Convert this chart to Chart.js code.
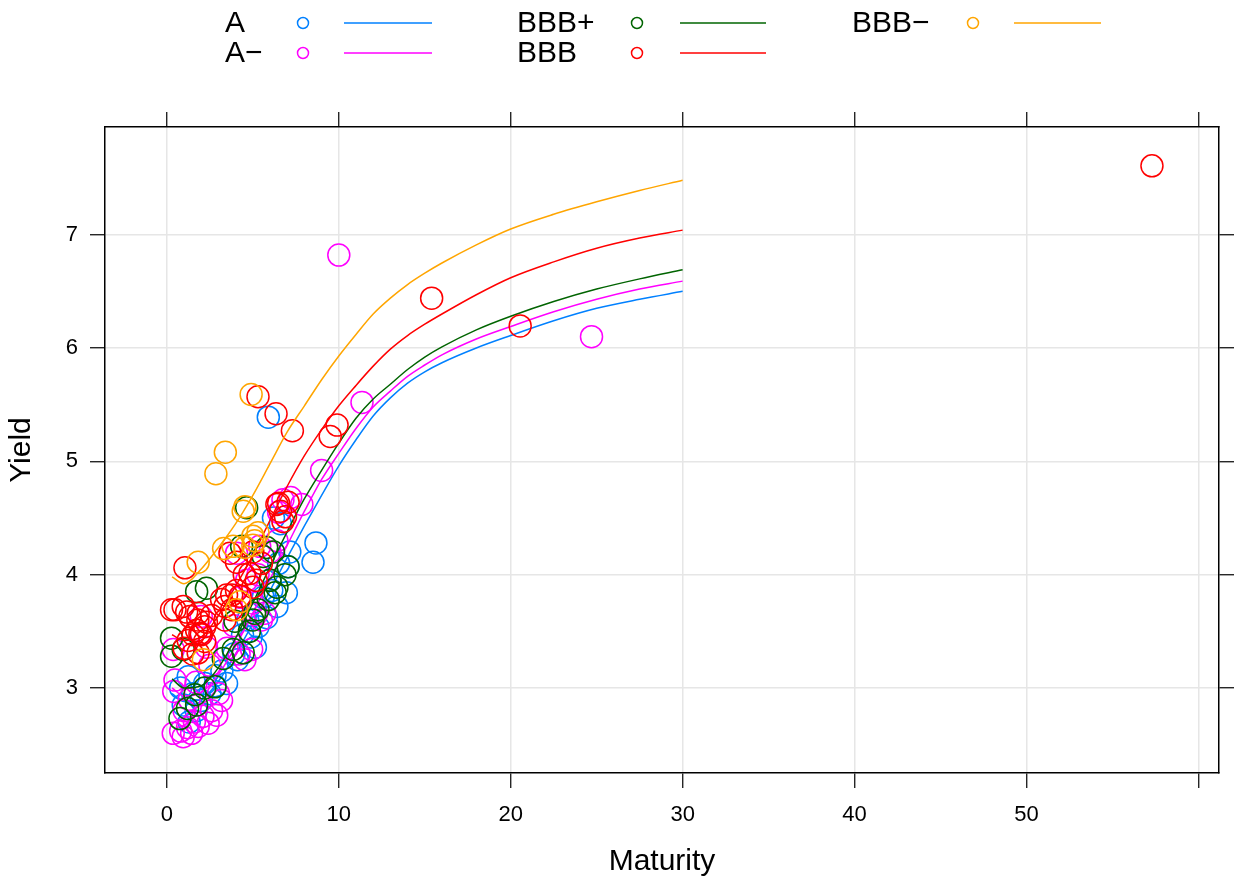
<!DOCTYPE html>
<html><head><meta charset="utf-8">
<script src="https://cdn.jsdelivr.net/npm/chart.js@4.4.1/dist/chart.umd.min.js"></script>
<style>html,body{margin:0;padding:0;background:#fff;}#wrap{width:1240px;height:889px;position:relative;}</style>
</head><body><div id="wrap"><canvas id="c" width="1240" height="889"></canvas></div>
<script>
// ---------- DATA ----------
const ratings = ['A', 'A\u2212', 'BBB+', 'BBB', 'BBB\u2212'];
const xTicks = [0, 10, 20, 30, 40, 50, 60];
const xTickLabels = ['0', '10', '20', '30', '40', '50', ''];
const yTicks = [3, 4, 5, 6, 7];
const yTickLabels = ['3', '4', '5', '6', '7'];

// observed bonds (Maturity, Yield)
const A_x = [5.9,6.2,8.67,8.5,7.15,7.05,6.95,6.1,5.3,5.15,4.4,4.7,3.9,3.47,2.8,2.8,2.2,1.24,0.95,2.0,1.5,1.7,6.5,6.0,5.6,4.9,3.2,6.6,4.1,2.5,0.8,6.4,5.8,1.3];
const A_y = [5.39,4.50,4.28,4.11,4.20,4.07,3.84,3.86,3.54,3.36,3.47,3.60,3.30,3.04,3.11,3.02,3.04,3.10,2.85,2.89,2.95,2.80,4.10,3.95,3.80,3.45,3.15,4.45,3.25,2.95,3.00,3.72,3.62,2.70];
const Am_x = [10.0,24.7,11.35,9.0,7.85,7.2,6.75,4.05,4.64,2.0,5.5,5.7,4.93,4.54,2.3,2.0,0.37,0.47,0.37,0.95,1.44,1.82,2.4,2.9,3.18,0.8,1.2,1.6,2.1,2.6,3.0,1.0,1.3,0.4,5.2,5.0,6.0,6.4,5.3,4.3,3.9,3.5,4.2,6.5,2.5,1.7,5.4];
const Am_y = [6.82,6.10,5.52,4.92,4.62,4.68,4.66,4.19,3.95,3.63,3.60,3.66,3.34,3.25,3.36,3.48,3.34,3.07,2.60,2.57,2.60,2.66,2.69,2.76,2.89,2.62,2.65,2.70,2.75,2.80,2.95,2.80,2.90,2.97,3.65,3.75,4.20,4.30,4.00,3.80,3.55,3.35,3.30,4.55,3.20,3.05,4.25];
const BBBp_x = [4.64,4.35,5.8,6.2,5.6,7.05,6.87,6.4,6.3,5.3,5.9,5.1,3.96,2.3,1.73,0.27,0.27,0.95,0.76,1.73,1.63,2.8,3.28,3.86,4.44,6.0,1.2,5.0,2.2,4.8];
const BBBp_y = [4.59,4.25,4.24,4.20,4.16,4.07,4.00,3.89,3.84,3.69,3.78,3.66,3.59,3.88,3.85,3.44,3.28,3.34,2.73,2.85,2.94,3.01,3.26,3.34,3.31,3.95,2.82,3.60,3.00,3.50];
const BBB_x = [57.3,20.55,15.4,9.9,9.5,7.3,6.35,5.3,6.4,6.6,6.9,6.75,7.05,6.5,3.67,4.05,1.05,4.83,5.2,5.0,4.05,3.77,0.47,1.15,1.34,1.8,2.2,1.73,2.0,1.53,1.24,3.38,3.77,3.18,3.47,4.25,0.27,0.95,1.82,1.92,2.2,1.82,2.6,3.38,4.5,5.5,5.0,2.3,1.0,1.5];
const BBB_y = [7.607,6.195,6.44,5.32,5.22,5.27,5.42,5.57,4.62,4.56,4.51,4.47,4.64,4.63,4.19,4.11,4.06,4.01,3.95,3.89,3.86,3.82,3.69,3.67,3.63,3.60,3.54,3.51,3.47,3.47,3.42,3.60,3.69,3.78,3.82,3.81,3.69,3.72,3.66,3.48,3.41,3.31,3.64,3.72,4.00,4.10,4.20,3.58,3.35,3.30];
const BBBm_x = [4.9,3.4,2.85,4.54,4.44,5.0,5.3,5.0,4.54,3.85,1.82,4.25,2.12,4.05,5.1,3.3];
const BBBm_y = [5.59,5.08,4.89,4.60,4.56,4.34,4.37,4.26,4.24,4.25,4.11,3.76,3.25,3.69,4.30,4.23];

// fitted yield curves
const curveMaturity = [0.3,1,2,3,4,5,6,7,8,9,10,11,12,13,14,15,16,18,20,22.5,25,27.5,30];
const fitA    = [2.95,2.88,2.90,3.06,3.30,3.57,3.86,4.15,4.43,4.70,4.96,5.19,5.40,5.56,5.69,5.79,5.87,6.00,6.11,6.24,6.35,6.43,6.50];
const fitAm   = [3.00,2.93,2.96,3.12,3.37,3.66,3.96,4.26,4.56,4.84,5.07,5.29,5.48,5.62,5.75,5.85,5.94,6.08,6.19,6.32,6.43,6.52,6.59];
const fitBBBp = [3.08,3.00,3.02,3.18,3.44,3.75,4.07,4.38,4.67,4.92,5.16,5.38,5.55,5.68,5.81,5.92,6.01,6.16,6.28,6.41,6.52,6.61,6.69];
const fitBBB  = [3.47,3.42,3.45,3.64,3.90,4.17,4.48,4.78,5.05,5.28,5.49,5.67,5.84,5.99,6.11,6.21,6.30,6.47,6.62,6.76,6.88,6.97,7.04];
const fitBBBm = [3.98,3.92,4.05,4.24,4.45,4.70,4.98,5.26,5.49,5.72,5.93,6.12,6.30,6.44,6.56,6.66,6.75,6.91,7.05,7.18,7.29,7.39,7.48];

// ---------- STYLE ----------
const colors = ['#0080ff', '#ff00ff', '#006400', '#ff0000', '#ffa500'];
const FONT = '"Liberation Sans", Arial, Helvetica, sans-serif';
const pts = [[A_x, A_y], [Am_x, Am_y], [BBBp_x, BBBp_y], [BBB_x, BBB_y], [BBBm_x, BBBm_y]];
const fits = [fitA, fitAm, fitBBBp, fitBBB, fitBBBm];

const datasets = [];
// Chart.js draws the last dataset first; lattice draws the last group on top -> reverse.
for (let g = ratings.length - 1; g >= 0; g--) {
  datasets.push({
    label: ratings[g] + ' fit',
    data: curveMaturity.map((m, i) => ({x: m, y: fits[g][i]})),
    showLine: true, pointRadius: 0, borderColor: colors[g], borderWidth: 1.5,
    cubicInterpolationMode: 'monotone', fill: false
  });
  datasets.push({
    label: ratings[g],
    data: pts[g][0].map((m, i) => ({x: m, y: pts[g][1][i]})),
    showLine: false, pointStyle: 'circle', pointRadius: 11, pointBorderWidth: 1.5,
    pointBackgroundColor: 'rgba(0,0,0,0)', borderColor: colors[g], backgroundColor: 'rgba(0,0,0,0)'
  });
}

const legendPlugin = {
  id: 'latticeKey',
  afterDraw(chart) {
    const ctx = chart.ctx;
    const cols = [{tx: 225, cx: 303, l1: 344, l2: 432}, {tx: 517, cx: 637, l1: 680, l2: 766}, {tx: 852, cx: 973, l1: 1014, l2: 1101}];
    const rows = [23, 53];
    ctx.save();
    ctx.font = '30px ' + FONT;
    ctx.textBaseline = 'middle';
    ctx.textAlign = 'left';
    ratings.forEach((r, i) => {
      const c = cols[Math.floor(i / 2)], y = rows[i % 2];
      ctx.fillStyle = '#000';
      ctx.fillText(r, c.tx, y + 1);
      ctx.strokeStyle = colors[i];
      ctx.lineWidth = 1.5;
      ctx.beginPath(); ctx.arc(c.cx, y, 5.5, 0, Math.PI * 2); ctx.stroke();
      ctx.beginPath(); ctx.moveTo(c.l1, y); ctx.lineTo(c.l2, y); ctx.stroke();
    });
    ctx.restore();
  }
};

const gridCommon = {color: '#e6e6e6', lineWidth: 1.5, tickColor: '#000', tickWidth: 1.2, tickLength: 15};
const xRange = {min: -3.6, max: 61.2};
const yRange = {min: 2.25, max: 7.95};
const setXTicks = s => { s.ticks = xTicks.map(v => ({value: v})); };
const setYTicks = s => { s.ticks = yTicks.map(v => ({value: v})); };

new Chart(document.getElementById('c'), {
  type: 'scatter',
  data: {datasets},
  options: {
    responsive: false, animation: false, devicePixelRatio: 1,
    layout: {padding: {top: 112, left: 0, right: 0, bottom: 0}},
    plugins: {legend: {display: false}, tooltip: {enabled: false}},
    scales: {
      x: {type: 'linear', position: 'bottom', ...xRange,
        afterBuildTicks: setXTicks,
        afterFit: s => { s.height = 116; },
        ticks: {callback: (v, i) => xTickLabels[i], color: '#000', font: {family: FONT, size: 22}, padding: 14, maxRotation: 0, autoSkip: false},
        grid: {...gridCommon},
        border: {display: true, color: '#000', width: 1.5},
        title: {display: true, text: 'Maturity', color: '#000', font: {family: FONT, size: 30}, padding: {top: 0, bottom: 9}}
      },
      x2: {type: 'linear', axis: 'x', position: 'top', ...xRange,
        afterBuildTicks: setXTicks,
        afterFit: s => { s.height = 15; },
        ticks: {display: false},
        grid: {...gridCommon, drawOnChartArea: false},
        border: {display: true, color: '#000', width: 1.5}
      },
      y: {type: 'linear', position: 'left', ...yRange,
        afterBuildTicks: setYTicks,
        afterFit: s => { s.width = 105; },
        ticks: {callback: (v, i) => yTickLabels[i], color: '#000', font: {family: FONT, size: 22}, padding: 12},
        grid: {...gridCommon},
        border: {display: true, color: '#000', width: 1.5},
        title: {display: true, text: 'Yield', color: '#000', font: {family: FONT, size: 30}, padding: {top: 4, bottom: 0}}
      },
      y2: {type: 'linear', axis: 'y', position: 'right', ...yRange,
        afterBuildTicks: setYTicks,
        afterFit: s => { s.width = 21; },
        ticks: {display: false},
        grid: {...gridCommon, drawOnChartArea: false},
        border: {display: true, color: '#000', width: 1.5}
      }
    }
  },
  plugins: [legendPlugin]
});
</script></body></html>
